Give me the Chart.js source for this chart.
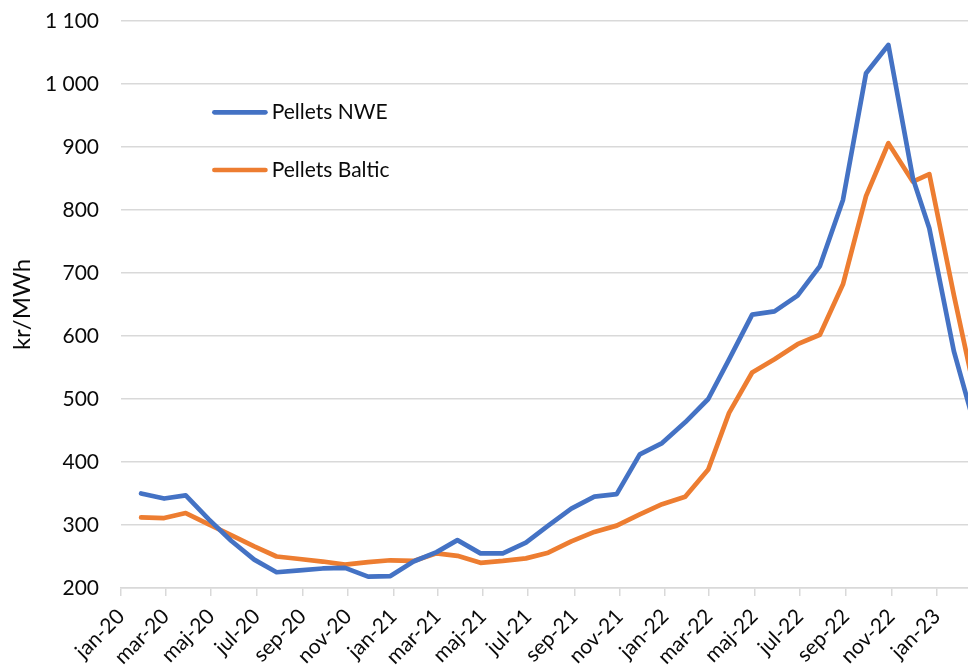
<!DOCTYPE html>
<html>
<head>
<meta charset="utf-8">
<script src="https://cdn.jsdelivr.net/npm/chart.js@4.4.1/dist/chart.umd.min.js"></script>
<style>
  html, body { margin: 0; padding: 0; background: #ffffff; }
  #wrap { width: 968px; height: 668px; position: relative; }
</style>
</head>
<body>
<div id="wrap"><canvas id="c"></canvas></div>
<script>
// ---- data ----
const seriesNames = ['Pellets NWE', 'Pellets Baltic'];
const dates = [
  '2020-01-28','2020-02-28','2020-03-28','2020-04-28','2020-05-28','2020-06-28',
  '2020-07-28','2020-08-28','2020-09-28','2020-10-28','2020-11-28','2020-12-28',
  '2021-01-28','2021-02-28','2021-03-28','2021-04-28','2021-05-28','2021-06-28',
  '2021-07-28','2021-08-28','2021-09-28','2021-10-28','2021-11-28','2021-12-28',
  '2022-01-28','2022-02-28','2022-03-28','2022-04-28','2022-05-28','2022-06-28',
  '2022-07-28','2022-08-28','2022-09-28','2022-10-28','2022-11-30','2022-12-22',
  '2023-01-24','2023-02-24'
];
const pelletsNWE = [
  350, 342, 347, 309, 275, 245, 225, 228, 231, 232,
  218, 219, 242, 257, 276, 255, 255, 272, 299, 326,
  345, 349, 412, 430, 463, 500, 563, 634, 639, 664,
  711, 816, 1017, 1062, 850, 771, 576, 445
];
const pelletsBaltic = [
  312, 311, 319, 301, 284, 266, 250, 246, 242, 237,
  241, 244, 243, 255, 251, 240, 243, 247, 256, 274,
  289, 299, 317, 333, 345, 388, 478, 542, 563, 587,
  602, 682, 822, 906, 845, 857, 665, 495
];
const tickLabels = [
  'jan-20','mar-20','maj-20','jul-20','sep-20','nov-20',
  'jan-21','mar-21','maj-21','jul-21','sep-21','nov-21',
  'jan-22','mar-22','maj-22','jul-22','sep-22','nov-22','jan-23'
];
const axisStart = '2020-01-01';
const axisEnd = '2023-02-12';
const yTitle = 'kr/MWh';

// ---- helpers ----
const DAY = 86400000;
const startMs = Date.parse(axisStart + 'T00:00:00Z');
function dayOf(iso) { return (Date.parse(iso + 'T00:00:00Z') - startMs) / DAY; }
const monthNames = ['jan','feb','mar','apr','maj','jun','jul','aug','sep','okt','nov','dec'];
function dayOfLabel(lbl) {
  const [m, y] = lbl.split('-');
  const ms = Date.UTC(2000 + parseInt(y, 10), monthNames.indexOf(m), 1);
  return (ms - startMs) / DAY;
}
function fmtThousands(v) {
  if (v >= 1000) return Math.floor(v / 1000) + ' ' + String(v % 1000).padStart(3, '0');
  return String(v);
}

const gridColor = '#d9d9d9';
const textColor = '#0a0a0a';
Chart.defaults.font.family = 'Lato, "Open Sans", sans-serif';
Chart.defaults.color = textColor;

const insideLegend = {
  id: 'insideLegend',
  afterDatasetsDraw(chart) {
    const { ctx, chartArea } = chart;
    chart.data.datasets.forEach((ds, i) => {
      const y = chartArea.top + 91.3 + i * 57.7;
      const x0 = chartArea.left + 93.4;
      ctx.save();
      ctx.strokeStyle = ds.borderColor;
      ctx.lineWidth = 4.7;
      ctx.lineCap = 'round';
      ctx.beginPath();
      ctx.moveTo(x0, y);
      ctx.lineTo(x0 + 51, y);
      ctx.stroke();
      ctx.fillStyle = textColor;
      ctx.font = '21px Lato, "Open Sans", sans-serif';
      ctx.textBaseline = 'alphabetic';
      ctx.textAlign = 'left';
      ctx.fillText(ds.label, x0 + 57.3, y + 7);
      ctx.restore();
    });
  }
};

const lineStyle = {
  borderWidth: 4.7,
  pointRadius: 0,
  pointHoverRadius: 0,
  tension: 0,
  borderJoinStyle: 'round',
  borderCapStyle: 'round',
  fill: false
};

new Chart(document.getElementById('c'), {
  type: 'line',
  data: {
    datasets: [
      Object.assign({
        label: seriesNames[0],
        data: dates.map((d, i) => ({ x: dayOf(d), y: pelletsNWE[i] })),
        borderColor: '#4472C4',
        backgroundColor: '#4472C4'
      }, lineStyle),
      Object.assign({
        label: seriesNames[1],
        data: dates.map((d, i) => ({ x: dayOf(d), y: pelletsBaltic[i] })),
        borderColor: '#ED7D31',
        backgroundColor: '#ED7D31'
      }, lineStyle)
    ]
  },
  options: {
    responsive: true,
    maintainAspectRatio: false,
    animation: false,
    layout: { padding: { top: 21, right: 0, bottom: 0, left: 0 } },
    plugins: {
      legend: { display: false },
      tooltip: { enabled: false }
    },
    scales: {
      x: {
        type: 'linear',
        min: dayOf(axisStart),
        max: dayOf(axisEnd),
        afterBuildTicks(scale) {
          scale.ticks = tickLabels.map(l => ({ value: dayOfLabel(l) }));
        },
        afterFit(scale) { scale.height = 80; },
        ticks: {
          autoSkip: false,
          minRotation: 45,
          maxRotation: 45,
          padding: 8,
          color: textColor,
          font: { size: 21 },
          callback(value, index) { return tickLabels[index]; }
        },
        grid: {
          drawOnChartArea: false,
          drawTicks: true,
          tickLength: 8,
          color: gridColor,
          lineWidth: 1.5
        },
        border: { display: true, color: gridColor, width: 1.5 }
      },
      y: {
        min: 200,
        max: 1100,
        afterFit(scale) {
          scale.width = 121;
          scale.paddingTop = 0;
          scale.paddingBottom = 0;
        },
        ticks: {
          stepSize: 100,
          padding: 22,
          color: textColor,
          font: { size: 21 },
          callback(value) { return fmtThousands(value); }
        },
        grid: { color: gridColor, lineWidth: 1.5, drawTicks: false },
        border: { display: false },
        title: {
          display: true,
          text: yTitle,
          color: textColor,
          font: { size: 24 },
          padding: { top: 8, bottom: 0 }
        }
      }
    }
  },
  plugins: [insideLegend]
});
</script>
</body>
</html>
